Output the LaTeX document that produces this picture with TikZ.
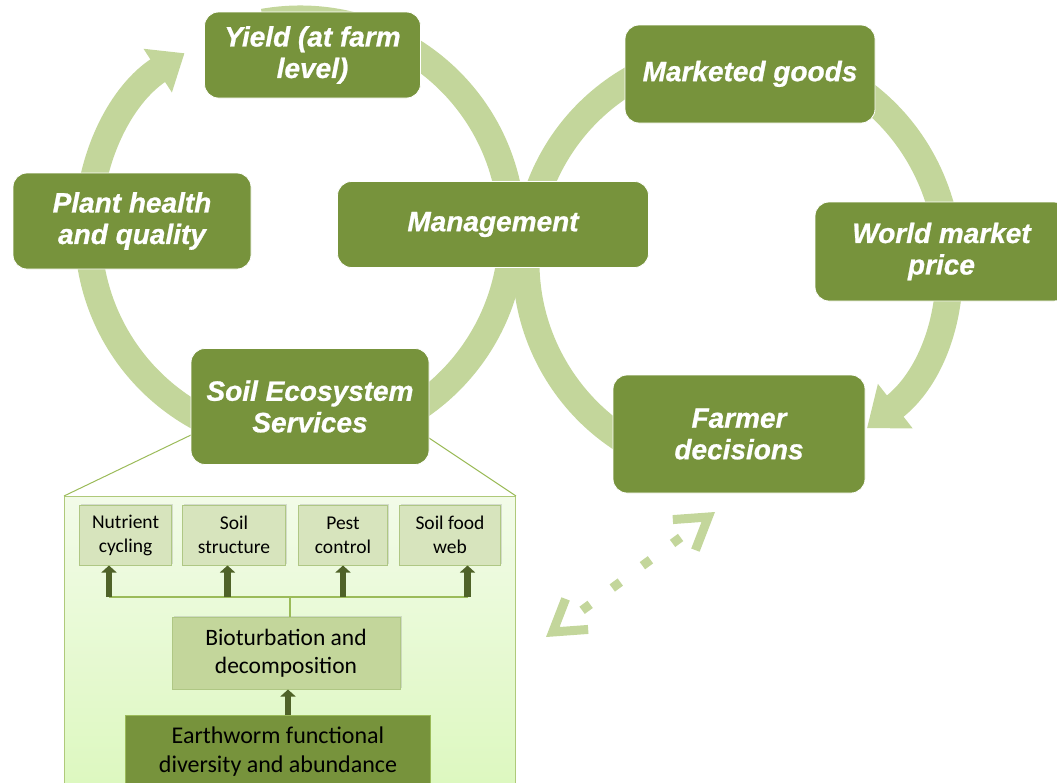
\documentclass[tikz,border=0pt]{standalone}
\usepackage{fontspec}
\setmainfont{Carlito}
\newfontfamily\boxfont{Liberation Sans}[BoldItalicFeatures={FakeBold=0.8}]
\usetikzlibrary{arrows.meta,shadows,calc}

\definecolor{olivebox}{HTML}{77933C}
\definecolor{ringgreen}{HTML}{C3D69B}
\definecolor{palebox}{HTML}{D7E4BD}
\definecolor{paleedge}{HTML}{AFC784}
\definecolor{darkolive}{HTML}{4F6228}
\definecolor{linegreen}{HTML}{9BBB59}
\definecolor{paneltop}{HTML}{F2FBE8}
\definecolor{panelbot}{HTML}{DCF8BE}

\tikzset{
  cyclebox/.style={rectangle, rounded corners=14pt, fill=olivebox, draw=white, line width=0.8pt,
    text=white, align=center, inner sep=0pt, font=\boxfont\bfseries\itshape\fontsize{28}{31.5}\selectfont},
  ring/.style={draw=ringgreen, line width=27pt},
  esbox/.style={rectangle, fill=palebox, draw=paleedge, line width=1pt, align=center, inner sep=0pt,
    font=\fontsize{19.5}{24}\selectfont, drop shadow={opacity=0.25, shadow xshift=1.5pt, shadow yshift=1.5pt}},
  uparr/.style={draw=darkolive, line width=6.5pt, -{Triangle[length=7pt,width=15pt]}},
  bus/.style={draw=linegreen, line width=1.8pt},
}

\begin{document}
\begin{tikzpicture}[x=1pt,y=1pt,yscale=-1]
\path[use as bounding box, clip] (0,0) rectangle (1057,782);

% the two cycles
\coordinate (L) at (300,231);
\coordinate (R) at (737,262);
\draw[ring, -{Triangle[length=32pt,width=50pt]}] (L) ++(260:212) arc[start angle=260, end angle=597, radius=212];
\draw[ring, -{Triangle[length=36pt,width=54pt]}] (R) ++(60:211) arc[start angle=60, end angle=412, radius=211];

% zoom panel below the soil box
\node[rectangle, draw=linegreen!80, line width=1pt, top color=paneltop, bottom color=panelbot,
  minimum width=451pt, minimum height=300pt, inner sep=0pt, anchor=north west] (panel) at (64,496) {};
\coordinate (zl) at (191,435);
\coordinate (zr) at (429,438);
\draw[linegreen, line width=1pt] (panel.north west) -- (zl);
\draw[linegreen, line width=1pt] (panel.north east) -- (zr);

\node[cyclebox, minimum width=216pt, minimum height=86pt] (yield) at (312.5,55) {Yield (at farm\\level)};
\node[cyclebox, minimum width=238pt, minimum height=96pt] (plant) at (132,221) {Plant health\\and quality};
\node[cyclebox, minimum width=311pt, minimum height=86pt] (mgmt) at (493,224.5) {Management};
\node[cyclebox, minimum width=250pt, minimum height=98pt, text depth=6pt] (market) at (750,74) {Marketed goods};
\node[cyclebox, minimum width=253pt, minimum height=99pt] (world) at (941.5,251.5) {World market\\price};
\node[cyclebox, minimum width=238pt, minimum height=116pt] (soil) at (310,406.5) {Soil Ecosystem\\Services};
\node[cyclebox, minimum width=252pt, minimum height=118pt] (farmer) at (739,434) {Farmer\\decisions};

% soil ecosystem services
\node[esbox, minimum width=92pt, minimum height=60pt] (nutrient) at (125.6,535) {Nutrient\\cycling};
\node[esbox, minimum width=103pt, minimum height=60pt] (structure) at (234,535) {Soil\\structure};
\node[esbox, minimum width=89.5pt, minimum height=60pt] (pest) at (343,535) {Pest\\control};
\node[esbox, minimum width=101.5pt, minimum height=60pt] (foodweb) at (450,535) {Soil food\\web};

\node[esbox, fill=ringgreen, minimum width=228pt, minimum height=72pt,
  font=\fontsize{23.5}{28.5}\selectfont] (bio) at (286,653) {Bioturbation and\\decomposition};
\node[rectangle, fill=olivebox, draw=linegreen, line width=1pt, minimum width=305pt, minimum height=72pt,
  inner sep=0pt, align=center, font=\fontsize{24}{29}\selectfont, anchor=north] (worm) at (278,715)
  {Earthworm functional\\diversity and abundance};
\fill[olivebox] ([xshift=0.5pt]worm.south west) rectangle ([xshift=-0.5pt,yshift=30pt]worm.south east);

\coordinate (b1) at (109,597);
\coordinate (b2) at (227.5,597);
\coordinate (b3) at (343,597);
\coordinate (b4) at (467.5,597);
\draw[bus] (b1) -- (b4);
\draw[bus] (bio.north -| 290,0) -- (b1 -| 290,0);
\draw[uparr] (b1) -- (b1 |- nutrient.south);
\draw[uparr] (b2) -- (b2 |- structure.south);
\draw[uparr] (b3) -- (b3 |- pest.south);
\draw[uparr] (b4) -- (b4 |- foodweb.south);
\draw[uparr] (worm.north -| 288,0) -- (bio.south -| 288,0);

% dotted link to the farmer
\coordinate (dA) at (546,637);
\coordinate (dB) at (715,512);
\draw[ringgreen, line width=9pt, dash pattern=on 10pt off 27.5pt, dash phase=5.5pt,
  {Straight Barb[length=30pt,width=38pt]}-{Straight Barb[length=30pt,width=38pt]}] (dA) -- (dB);
\end{tikzpicture}
\end{document}
